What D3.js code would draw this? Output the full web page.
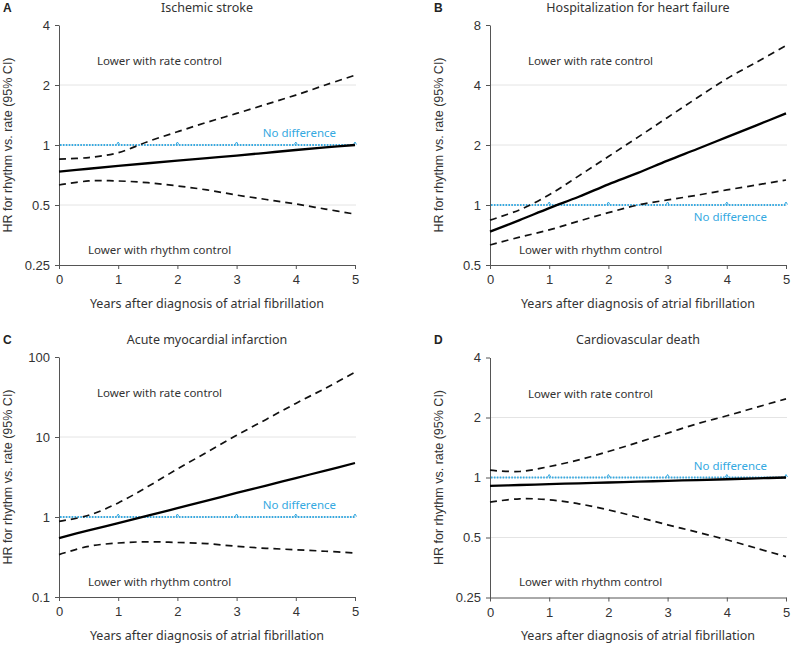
<!DOCTYPE html>
<html><head><meta charset="utf-8">
<script src="https://cdn.jsdelivr.net/npm/d3@7"></script>
<style>body{margin:0;background:#fff} svg{display:block}</style>
</head><body>
<svg id="chart" width="793" height="645"></svg>
<script>
// ---- data ----
const years = [0, 0.5, 1, 1.5, 2, 2.5, 3, 3.5, 4, 4.5, 5];
const xTicks = [0, 1, 2, 3, 4, 5];

// A: Ischemic stroke
const strokeHR    = [0.735, 0.76, 0.785, 0.81, 0.835, 0.86, 0.885, 0.914, 0.944, 0.972, 1.0];
const strokeLower = [0.63, 0.66, 0.66, 0.647, 0.623, 0.595, 0.561, 0.533, 0.506, 0.477, 0.45];
const strokeUpper = [0.85, 0.865, 0.915, 1.04, 1.165, 1.3, 1.44, 1.6, 1.78, 2.0, 2.24];
// B: Hospitalization for heart failure
const hfHR    = [0.735, 0.84, 0.965, 1.1, 1.27, 1.45, 1.67, 1.91, 2.19, 2.51, 2.88];
const hfLower = [0.63, 0.69, 0.75, 0.83, 0.915, 1.0, 1.06, 1.12, 1.19, 1.26, 1.335];
const hfUpper = [0.84, 0.946, 1.125, 1.4, 1.75, 2.19, 2.75, 3.45, 4.3, 5.2, 6.3];
// C: Acute myocardial infarction
const miHR    = [0.546, 0.68, 0.84, 1.04, 1.29, 1.6, 2.0, 2.47, 3.07, 3.8, 4.73];
const miLower = [0.339, 0.43, 0.473, 0.49, 0.48, 0.465, 0.43, 0.406, 0.39, 0.373, 0.355];
const miUpper = [0.883, 1.05, 1.5, 2.4, 3.98, 6.46, 10.5, 16.6, 26.3, 40.7, 64.6];
// D: Cardiovascular death
const cvHR    = [0.908, 0.917, 0.926, 0.935, 0.944, 0.953, 0.962, 0.971, 0.98, 0.99, 1.0];
const cvLower = [0.752, 0.782, 0.773, 0.738, 0.688, 0.632, 0.579, 0.532, 0.487, 0.442, 0.401];
const cvUpper = [1.088, 1.072, 1.135, 1.226, 1.35, 1.5, 1.67, 1.86, 2.04, 2.25, 2.48];

const tickLabelsA = ["0.25", "0.5", "1", "2", "4"];
const tickValsA = [0.25, 0.5, 1, 2, 4];
const tickLabelsB = ["0.5", "1", "2", "4", "8"];
const tickValsB = [0.5, 1, 2, 4, 8];
const tickLabelsC = ["0.1", "1", "10", "100"];
const tickValsC = [0.1, 1, 10, 100];
const tickLabelsD = ["0.25", "0.5", "1", "2", "4"];
const tickValsD = [0.25, 0.5, 1, 2, 4];

const letters = ["A", "B", "C", "D"];
const titles = ["Ischemic stroke", "Hospitalization for heart failure", "Acute myocardial infarction", "Cardiovascular death"];
const xTitle = "Years after diagnosis of atrial fibrillation";
const yTitle = "HR for rhythm vs. rate (95% CI)";

const panels = [
  {letter: letters[0], title: titles[0], hr: strokeHR, lo: strokeLower, hi: strokeUpper, tv: tickValsA, tl: tickLabelsA, left: 59, top: 25, ndBelow: false},
  {letter: letters[1], title: titles[1], hr: hfHR, lo: hfLower, hi: hfUpper, tv: tickValsB, tl: tickLabelsB, left: 490, top: 25, ndBelow: true},
  {letter: letters[2], title: titles[2], hr: miHR, lo: miLower, hi: miUpper, tv: tickValsC, tl: tickLabelsC, left: 59, top: 357, ndBelow: false},
  {letter: letters[3], title: titles[3], hr: cvHR, lo: cvLower, hi: cvUpper, tv: tickValsD, tl: tickLabelsD, left: 490, top: 357.5, ndBelow: false}
];

// ---- style ----
const W = 296, H = 240;
const blue = "#35a9e1";
const axisCol = "#555";
const textCol = "#333";
const numFont = "'Liberation Sans', Arial, sans-serif";
const txtFont = "'Noto Sans', 'Open Sans', sans-serif";

const svg = d3.select("#chart");

panels.forEach(p => {
  const g = svg.append("g").attr("transform", `translate(${p.left},${p.top})`);
  const x = d3.scaleLinear().domain([0, 5]).range([0, W]);
  const y = d3.scaleLog().domain([p.tv[0], p.tv[p.tv.length - 1]]).range([H, 0]);

  // gridlines
  g.selectAll(".grid").data(p.tv.slice(1, -1)).enter().append("line")
    .attr("x1", 0).attr("x2", W + 1)
    .attr("y1", d => y(d)).attr("y2", d => y(d))
    .attr("stroke", "#e4e4e4").attr("stroke-width", 1);

  // y axis
  const ya = d3.axisLeft(y).tickValues(p.tv).tickFormat((d, i) => p.tl[i]).tickSize(4).tickPadding(5).tickSizeOuter(0);
  const yg = g.append("g").call(ya);
  yg.select(".domain").attr("stroke", axisCol);
  yg.selectAll(".tick line").attr("stroke", axisCol);
  yg.selectAll("text").attr("font-family", numFont).attr("font-size", 13).attr("fill", textCol);

  // x axis
  const xa = d3.axisBottom(x).tickValues(xTicks).tickFormat(d3.format("d")).tickSize(4).tickPadding(6).tickSizeOuter(0);
  const xg = g.append("g").attr("transform", `translate(0,${H})`).call(xa);
  xg.select(".domain").attr("stroke", axisCol);
  xg.selectAll(".tick line").attr("stroke", axisCol);
  xg.selectAll("text").attr("font-family", numFont).attr("font-size", 13).attr("fill", textCol);

  // no-difference line
  g.append("line").attr("x1", 1).attr("x2", W).attr("y1", y(1)).attr("y2", y(1))
    .attr("stroke", blue).attr("stroke-width", 2.2).attr("stroke-dasharray", "1.6,1.3");
  g.selectAll(".caret").data(xTicks.slice(1)).enter().append("path")
    .attr("d", d => `M${x(d) - 1.5},${y(1) - 0.5} L${x(d)},${y(1) - 3} L${x(d) + 1.5},${y(1) - 0.5}`)
    .attr("fill", "none").attr("stroke", blue).attr("stroke-width", 1);

  const line = d3.line().x((d, i) => x(years[i])).y(d => y(d)).curve(d3.curveCatmullRom);
  g.append("path").attr("d", line(p.lo)).attr("fill", "none").attr("stroke", "#111")
    .attr("stroke-width", 1.7).attr("stroke-dasharray", "7,5");
  g.append("path").attr("d", line(p.hi)).attr("fill", "none").attr("stroke", "#111")
    .attr("stroke-width", 1.7).attr("stroke-dasharray", "7,5");
  g.append("path").attr("d", line(p.hr)).attr("fill", "none").attr("stroke", "#000")
    .attr("stroke-width", 2.3);

  // annotations
  g.append("text").attr("x", 38).attr("y", 40).text("Lower with rate control")
    .attr("font-family", txtFont).attr("font-size", 11.5).attr("fill", textCol);
  g.append("text").attr("x", 29).attr("y", 228.5).text("Lower with rhythm control")
    .attr("font-family", txtFont).attr("font-size", 11.5).attr("fill", textCol);
  g.append("text").attr("x", 277).attr("y", p.ndBelow ? y(1) + 16 : y(1) - 8)
    .attr("text-anchor", "end").text("No difference")
    .attr("font-family", txtFont).attr("font-size", 11.5).attr("fill", blue);

  // title & letter
  g.append("text").attr("x", W / 2).attr("y", -13.5).attr("text-anchor", "middle").text(p.title)
    .attr("font-family", txtFont).attr("font-size", 12.5).attr("fill", textCol);
  g.append("text").attr("x", -56).attr("y", -13.5).text(p.letter)
    .attr("font-family", numFont).attr("font-weight", "bold").attr("font-size", 12).attr("fill", "#222");

  // axis titles
  g.append("text").attr("x", W / 2).attr("y", H + 42.5).attr("text-anchor", "middle").text(xTitle)
    .attr("font-family", txtFont).attr("font-size", 12.5).attr("fill", textCol);
  g.append("text").attr("transform", `translate(-47,${H / 2}) rotate(-90)`).attr("text-anchor", "middle").text(yTitle)
    .attr("font-family", numFont).attr("font-size", 12.5).attr("fill", textCol);
});
</script>
</body></html>
